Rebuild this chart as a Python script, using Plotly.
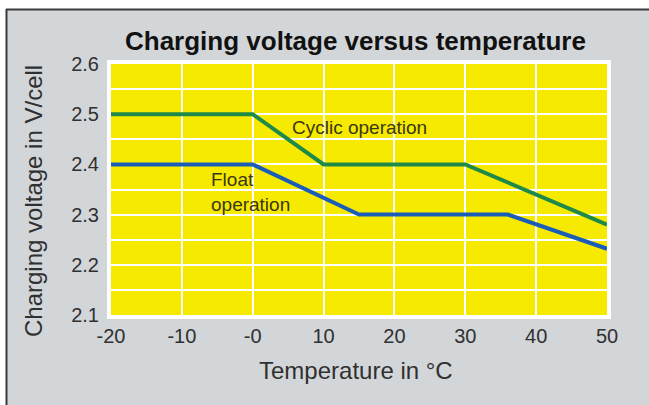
import plotly.graph_objects as go

# ---- data ----
cyclic_temp = [-20, 0, 10, 30, 50]
cyclic_volt = [2.50, 2.50, 2.40, 2.40, 2.28]
float_temp = [-20, 0, 15, 36, 50]
float_volt = [2.40, 2.40, 2.30, 2.30, 2.232]
x_tickvals = [-20, -10, 0, 10, 20, 30, 40, 50]
x_ticktext = ["-20", "-10", "-0", "10", "20", "30", "40", "50"]
y_tickvals = [2.1, 2.2, 2.3, 2.4, 2.5, 2.6]
y_ticktext = ["2.1", "2.2", "2.3", "2.4", "2.5", "2.6"]

W, H = 649, 405
L, R, T, B = 111, 42, 64, 90
PW, PH = W - L - R, H - T - B

def px(X):
    return (X - L) / PW

def py(Y):
    return (H - B - Y) / PH

FONT = "Liberation Sans, Arial, Helvetica, sans-serif"
TXT = "#303030"
BG = "#d3d6d9"

fig = go.Figure()
fig.add_trace(go.Scatter(x=cyclic_temp, y=cyclic_volt, mode="lines",
                         line=dict(color="#1f8a48", width=4), cliponaxis=False,
                         name="Cyclic operation", hoverinfo="skip"))
fig.add_trace(go.Scatter(x=float_temp, y=float_volt, mode="lines",
                         line=dict(color="#1a5db8", width=4), cliponaxis=False,
                         name="Float operation", hoverinfo="skip"))

fig.update_layout(
    width=W, height=H, showlegend=False,
    margin=dict(l=L, r=R, t=T, b=B, pad=0),
    paper_bgcolor=BG, plot_bgcolor="#f6ea00",
    font=dict(family=FONT, color=TXT),
)
fig.update_xaxes(range=[-20, 50], tickvals=x_tickvals, ticktext=x_ticktext,
                 showgrid=True, gridcolor="white", gridwidth=2, zeroline=False,
                 showline=False, ticks="", ticklabelstandoff=7,
                 tickfont=dict(size=20, color=TXT, family=FONT))
fig.update_yaxes(range=[2.1, 2.6], tickvals=y_tickvals, ticktext=y_ticktext,
                 showgrid=True, gridcolor="white", gridwidth=2, zeroline=False,
                 showline=False, ticks="", ticklabelstandoff=11,
                 minor=dict(dtick=0.05, showgrid=True, gridcolor="white", gridwidth=2),
                 tickfont=dict(size=20, color=TXT, family=FONT))

shapes = [
    # white frame around plot area
    dict(type="rect", xref="paper", yref="paper",
         x0=px(L - 2), x1=px(W - R + 2), y0=py(H - B + 2), y1=py(T - 2),
         line=dict(color="white", width=4), fillcolor="rgba(0,0,0,0)", layer="above"),
    # white margins top and left
    dict(type="rect", xref="paper", yref="paper",
         x0=px(0), x1=px(W), y0=py(9), y1=py(0),
         line=dict(width=0), fillcolor="white", layer="above"),
    dict(type="rect", xref="paper", yref="paper",
         x0=px(0), x1=px(6), y0=py(H), y1=py(0),
         line=dict(width=0), fillcolor="white", layer="above"),
    # dark border lines
    dict(type="line", xref="paper", yref="paper",
         x0=px(6), x1=px(W + 5), y0=py(9.5), y1=py(9.5),
         line=dict(color="#3a3a3a", width=2), layer="above"),
    dict(type="line", xref="paper", yref="paper",
         x0=px(6.5), x1=px(6.5), y0=py(9), y1=py(H + 5),
         line=dict(color="#3a3a3a", width=2), layer="above"),
]
fig.update_layout(shapes=shapes)

annotations = [
    dict(text="<b>Charging voltage versus temperature</b>", xref="paper", yref="paper",
         x=px(355), y=py(41), xanchor="center", yanchor="middle", showarrow=False,
         font=dict(size=26, color="#111111", family=FONT)),
    dict(text="Charging voltage in V/cell", xref="paper", yref="paper",
         x=px(33), y=py(201), xanchor="center", yanchor="middle", showarrow=False,
         textangle=-90, font=dict(size=24, color=TXT, family=FONT)),
    dict(text="Temperature in °C", xref="paper", yref="paper",
         x=px(356), y=py(370), xanchor="center", yanchor="middle", showarrow=False,
         font=dict(size=24, color=TXT, family=FONT)),
    dict(text="Cyclic operation", xref="paper", yref="paper",
         x=px(290), y=py(127), xanchor="left", yanchor="middle", showarrow=False,
         font=dict(size=19, color="#3a3812", family=FONT)),
    dict(text="Float<br>operation", xref="paper", yref="paper", align="left",
         x=px(209), y=py(192), xanchor="left", yanchor="middle", showarrow=False,
         font=dict(size=19, color="#3a3812", family=FONT)),
]
fig.update_layout(annotations=annotations)

fig.write_html("out.html", config={"displayModeBar": False},
               post_script="document.body.style.margin='0';")
